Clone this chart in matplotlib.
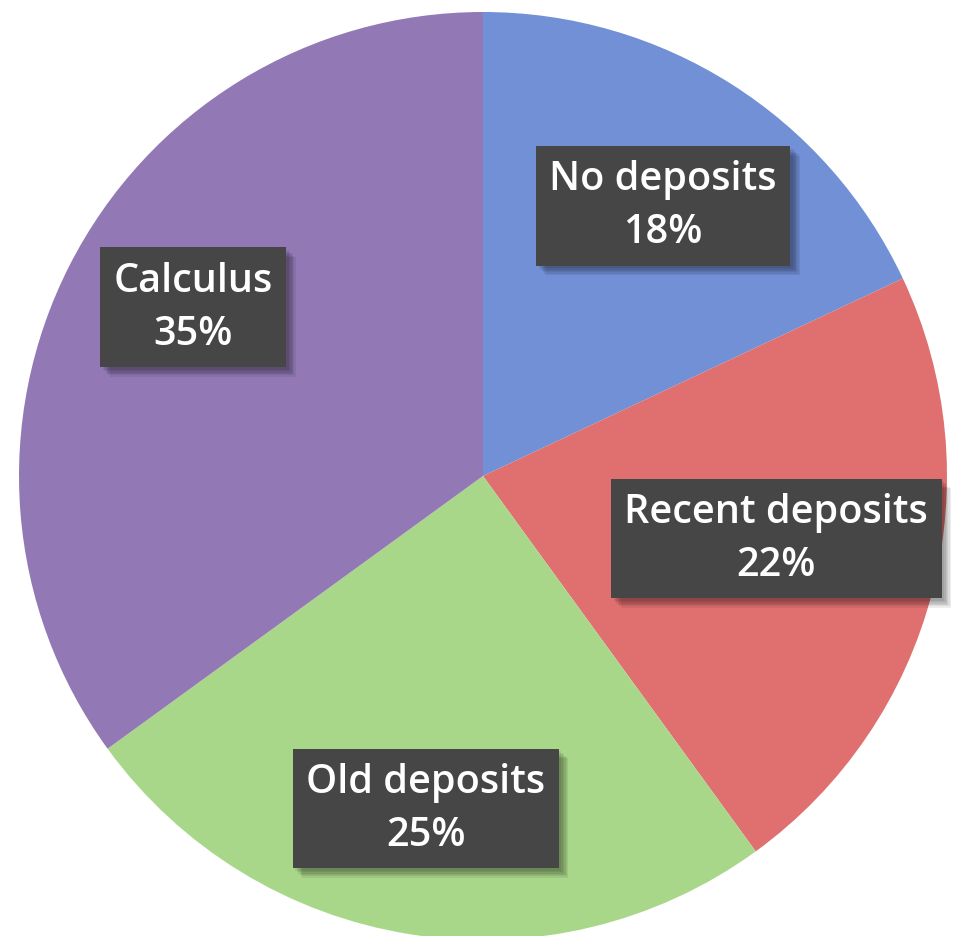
import matplotlib.pyplot as plt
import matplotlib.patheffects as pe
import numpy as np

categories = ["No deposits", "Recent deposits", "Old deposits", "Calculus"]
shares = [18, 22, 25, 35]
colors = ["#7190d6", "#e07070", "#a9d78a", "#9279b5"]

# label box placement along each wedge: fraction of radius, angle nudge (deg)
label_dist = [0.70, 0.646, 0.727, 0.723]
label_nudge = [-1.3, 2.4, -0.8, -3.2]

W, H = 959, 937
cx, cy, r = 483, H - 477, 464

fig = plt.figure(figsize=(W / 100, H / 100), dpi=100)
ax = fig.add_axes([0, 0, 1, 1])
ax.set_aspect("equal")
ax.axis("off")

wedges, _ = ax.pie(
    shares,
    colors=colors,
    startangle=90,
    counterclock=False,
    center=(cx, cy),
    radius=r,
    wedgeprops={"linewidth": 0},
)
ax.set_xlim(0, W)
ax.set_ylim(0, H)

# soft drop shadow built from a few faint offset copies
shadow = [
    pe.SimplePatchShadow(offset=(o, -o), alpha=0.07, shadow_rgbFace="black")
    for o in (2, 3, 4, 5, 6, 7)
]

for w, name, val, d, nudge in zip(wedges, categories, shares, label_dist, label_nudge):
    ang = np.deg2rad((w.theta1 + w.theta2) / 2 + nudge)
    x = cx + d * r * np.cos(ang)
    y = cy + d * r * np.sin(ang)
    t = ax.text(
        x, y, f"{name}\n{val}%",
        ha="center", va="center", color="white",
        fontsize=28.5, fontweight="semibold", family="Open Sans",
        linespacing=1.42,
        bbox=dict(boxstyle="square,pad=0.34", facecolor="#464646", edgecolor="none"),
    )
    t.get_bbox_patch().set_path_effects(shadow + [pe.Normal()])

fig.savefig("out.png", dpi=100)
